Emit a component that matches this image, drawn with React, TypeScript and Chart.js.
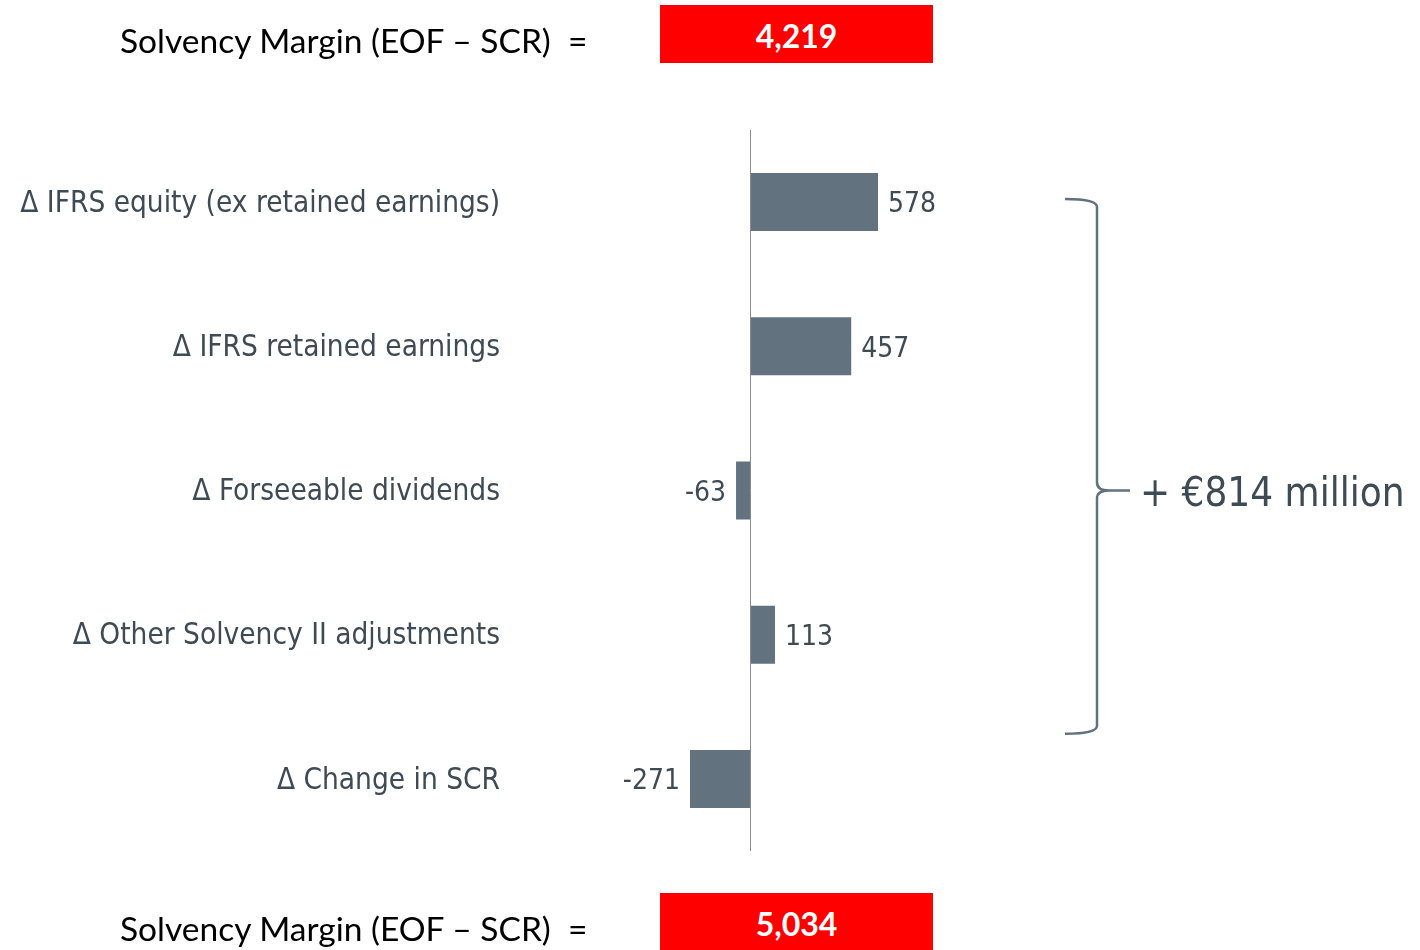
import React, { useEffect, useRef } from "react";
import { Chart, registerables } from "chart.js";

Chart.register(...registerables);

const categories = [
  "Δ IFRS equity (ex retained earnings)",
  "Δ IFRS retained earnings",
  "Δ Forseeable dividends",
  "Δ Other Solvency II adjustments",
  "Δ Change in SCR",
];
const values = [578, 457, -63, 113, -271];
const marginLabel = "Solvency Margin (EOF – SCR)  =";
const openingValue = "4,219";
const closingValue = "5,034";
const bracketLabel = "+ €814 million";

const barColor = "#62727f";
const textColor = "#3e4a54";
const labelFont = "'DejaVu Sans Condensed', 'DejaVu Sans', sans-serif";

const overlayPlugin = {
  id: "overlay",
  afterDatasetsDraw(chart: any) {
    const ctx = chart.ctx;
    const { top, bottom } = chart.chartArea;
    const xs = chart.scales.x;
    const ys = chart.scales.y;
    const zero = xs.getPixelForValue(0);
    ctx.save();
    // zero axis line
    ctx.strokeStyle = "#8a8a8a";
    ctx.lineWidth = 1;
    ctx.beginPath();
    ctx.moveTo(Math.round(zero) + 0.5, top);
    ctx.lineTo(Math.round(zero) + 0.5, bottom);
    ctx.stroke();

    // category labels
    ctx.fillStyle = textColor;
    ctx.textBaseline = "middle";
    ctx.font = `29.5px ${labelFont}`;
    ctx.textAlign = "right";
    categories.forEach((c, i) => {
      ctx.fillText(c, 500, ys.getPixelForValue(i) + 2);
    });

    // value labels
    ctx.font = `28px ${labelFont}`;
    const meta = chart.getDatasetMeta(0);
    meta.data.forEach((bar: any, i: number) => {
      const v = values[i];
      if (v >= 0) {
        ctx.textAlign = "left";
        ctx.fillText(String(v), bar.x + 10, bar.y + 3);
      } else {
        ctx.textAlign = "right";
        ctx.fillText(String(v), bar.x - 10, bar.y + 3);
      }
    });

    // brace
    const yTop = ys.getPixelForValue(0) - 3;
    const yBot = ys.getPixelForValue(3.5) + 27;
    const yMid = ys.getPixelForValue(2);
    const bx = 1097;
    ctx.strokeStyle = "#617180";
    ctx.lineWidth = 2.5;
    ctx.beginPath();
    ctx.moveTo(1065, yTop);
    ctx.quadraticCurveTo(bx, yTop, bx, yTop + 8);
    ctx.lineTo(bx, yMid - 8);
    ctx.quadraticCurveTo(bx, yMid, bx + 12, yMid);
    ctx.lineTo(1130, yMid);
    ctx.moveTo(bx + 12, yMid);
    ctx.quadraticCurveTo(bx, yMid, bx, yMid + 8);
    ctx.lineTo(bx, yBot - 8);
    ctx.quadraticCurveTo(bx, yBot, 1065, yBot);
    ctx.stroke();

    ctx.fillStyle = textColor;
    ctx.font = `40px ${labelFont}`;
    ctx.textAlign = "left";
    ctx.fillText(bracketLabel, 1140, yMid + 5);
    ctx.restore();
  },
};

function MarginRow({ top, value }: { top: number; value: string }) {
  return (
    <>
      <div
        style={{
          position: "absolute",
          left: 120,
          top: top + 15,
          fontFamily: "Lato, 'Open Sans', sans-serif",
          fontSize: 33.5,
          lineHeight: "40px",
          color: "#000",
          whiteSpace: "pre",
        }}
      >
        {marginLabel}
      </div>
      <div
        style={{
          position: "absolute",
          left: 660,
          top: top,
          width: 273,
          height: 58,
          background: "#ff0000",
          color: "#fff",
          fontFamily: "Lato, 'Open Sans', sans-serif",
          fontWeight: 700,
          fontSize: 32,
          lineHeight: "62px",
          textAlign: "center",
        }}
      >
        {value}
      </div>
    </>
  );
}

export default function App() {
  const canvasRef = useRef<HTMLCanvasElement | null>(null);

  useEffect(() => {
    if (!canvasRef.current) return;
    const chart = new Chart(canvasRef.current, {
      type: "bar",
      data: {
        labels: categories,
        datasets: [
          {
            data: values,
            backgroundColor: barColor,
            borderWidth: 0,
            barPercentage: 1,
            categoryPercentage: 0.402,
          },
        ],
      },
      options: {
        indexAxis: "y",
        responsive: false,
        animation: false,
        layout: { padding: { left: 528.5, right: 359.9, top: 130, bottom: 99 } },
        plugins: { legend: { display: false }, tooltip: { enabled: false } },
        scales: {
          x: { min: -1000, max: 1400, display: false },
          y: { display: false },
        },
      },
      plugins: [overlayPlugin],
    });
    return () => chart.destroy();
  }, []);

  return (
    <div
      style={{
        position: "fixed",
        left: 0,
        top: 0,
        width: 1420,
        height: 950,
        background: "#fff",
        overflow: "hidden",
      }}
    >
      <canvas ref={canvasRef} width={1420} height={950} style={{ position: "absolute", left: 0, top: 0 }} />
      <MarginRow top={5} value={openingValue} />
      <MarginRow top={893} value={closingValue} />
    </div>
  );
}
